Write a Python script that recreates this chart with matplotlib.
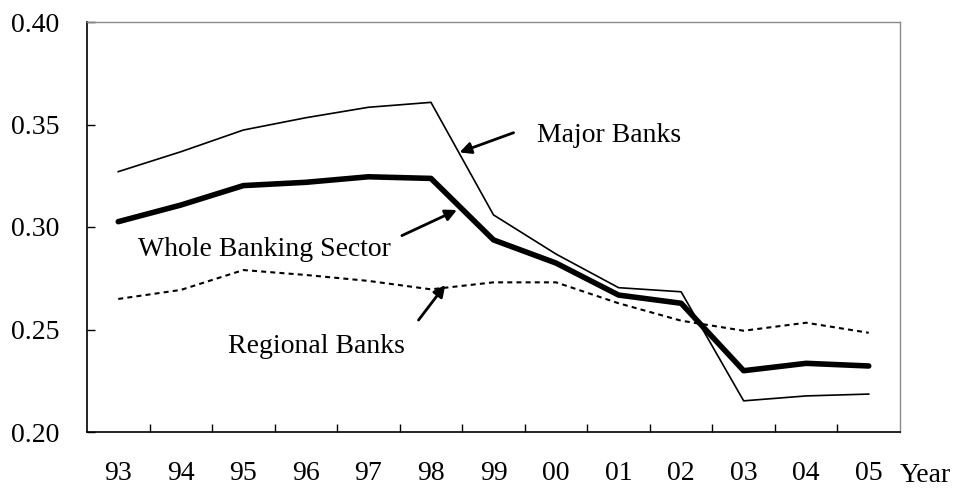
import matplotlib
matplotlib.use('Agg')
import matplotlib.pyplot as plt
import numpy as np

plt.rcParams['font.family'] = ['Liberation Serif', 'DejaVu Serif']

years = ['93', '94', '95', '96', '97', '98', '99', '00', '01', '02', '03', '04', '05']
major = [0.327, 0.3367, 0.3473, 0.3533, 0.3584, 0.3608, 0.3059, 0.2868, 0.2704, 0.2684, 0.2152, 0.2176, 0.2185]
whole = [0.3026, 0.3107, 0.3202, 0.3218, 0.3245, 0.3237, 0.2937, 0.2824, 0.2668, 0.2628, 0.2299, 0.2335, 0.2322]
regional = [0.2649, 0.2693, 0.279, 0.2766, 0.2737, 0.2696, 0.273, 0.273, 0.2628, 0.2543, 0.2494, 0.2533, 0.2484]

fs = 20
x = np.arange(len(years))

fig = plt.figure(figsize=(9.56, 4.88), dpi=100)
ax = fig.add_axes([87 / 956, 56 / 488, 813 / 956, 410 / 488])

ax.plot(x, major, color='black', lw=1.2)
ax.plot(x, whole, color='black', lw=4.0, solid_capstyle='round')
ax.plot(x, regional, color='black', lw=1.5, dashes=(2.4, 2.0))

ax.set_xlim(-0.5, len(years) - 0.5)
ax.set_ylim(0.20, 0.40)
ax.set_yticks([0.20, 0.25, 0.30, 0.35, 0.40])
ax.set_yticklabels(['%.2f' % v for v in [0.20, 0.25, 0.30, 0.35, 0.40]], fontsize=fs)
ax.set_xticks(x)
ax.set_xticklabels(years, fontsize=fs)
ax.set_xticks(x[:-1] + 0.5, minor=True)
ax.tick_params(axis='x', which='major', length=0, pad=21)
ax.tick_params(axis='x', which='minor', direction='in', length=6, width=1)
ax.tick_params(axis='y', direction='in', length=6, width=1, pad=20)

for s in ['top', 'right']:
    ax.spines[s].set_color('#8a8a8a')
    ax.spines[s].set_linewidth(1.0)
for s in ['left', 'bottom']:
    ax.spines[s].set_color('black')
    ax.spines[s].set_linewidth(1.2)

arrow = dict(arrowstyle='-|>', color='black', lw=2.0, mutation_scale=17,
             shrinkA=0, shrinkB=0)
ax.annotate('', xy=(5.457, 0.3364), xytext=(6.321, 0.3460), arrowprops=arrow)
ax.annotate('', xy=(5.415, 0.3083), xytext=(4.535, 0.2958), arrowprops=arrow)
ax.annotate('', xy=(5.228, 0.2717), xytext=(4.801, 0.2546), arrowprops=arrow)

ax.text(6.695, 0.3416, 'Major Banks', fontsize=fs, va='baseline', ha='left')
ax.text(0.316, 0.2860, 'Whole Banking Sector', fontsize=fs, va='baseline', ha='left')
ax.text(1.761, 0.2387, 'Regional Banks', fontsize=fs, va='baseline', ha='left')

ax.text(1.0, -0.121, 'Year', transform=ax.transAxes, fontsize=fs,
        va='baseline', ha='left')

fig.savefig('out.png', dpi=100)
